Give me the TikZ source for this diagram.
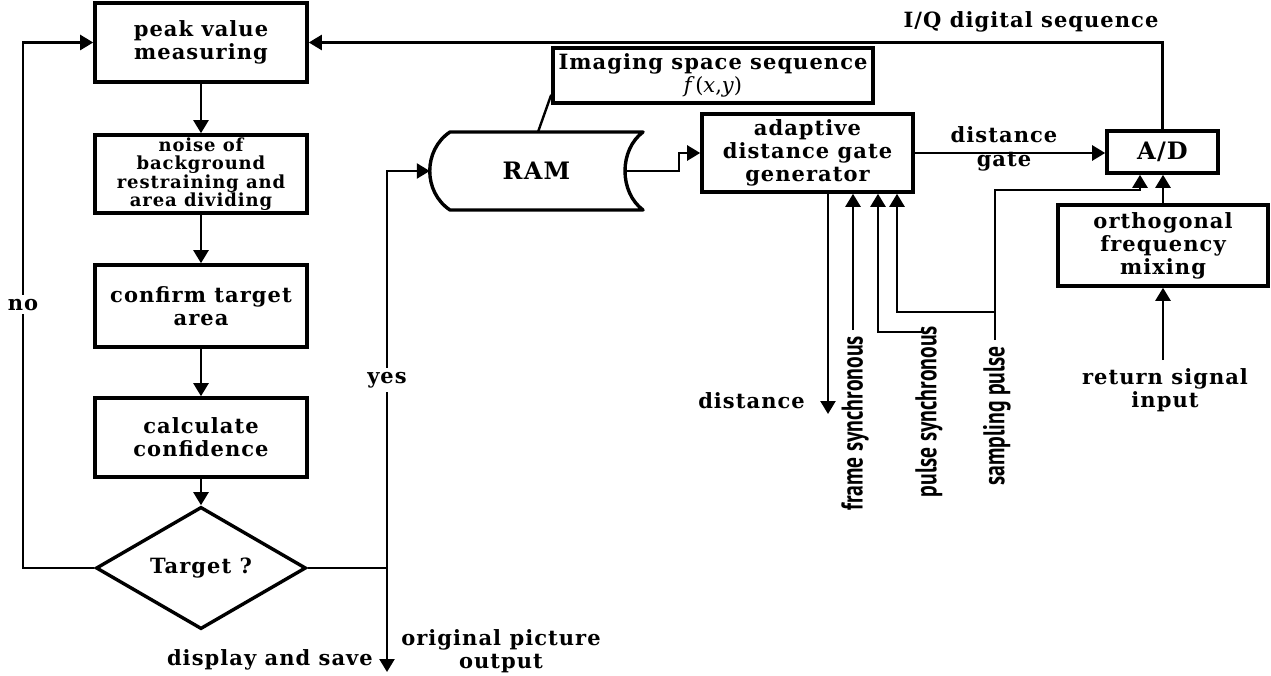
\documentclass[tikz,border=0pt]{standalone}
\usepackage{fontspec}
\setmainfont{DejaVu Serif}[LetterSpace=5]
\newfontfamily\condfont[FakeStretch=0.72]{PT Sans}
\usetikzlibrary{arrows.meta,shapes.geometric,calc}
\begin{document}
\begin{tikzpicture}[x=1pt,y=-1pt,
  font=\bfseries\fontsize{21}{23}\selectfont,
  box/.style={draw,line width=3.6pt,rectangle,align=center,inner sep=0pt},
  conn/.style={line width=2.4pt},
  arr/.style={conn,-{Triangle[length=13pt,width=15pt]}},
  lbl/.style={align=center,inner sep=0pt},
  gap/.style={fill=white,inner sep=4pt},
  big/.style={font=\bfseries\fontsize{24}{24}\selectfont},
  rot/.style={rotate=90,anchor=east,inner sep=0pt,font=\condfont\bfseries\fontsize{30}{30}\selectfont}]
\useasboundingbox (0,0) rectangle (1271,676);
% left flowchart
\node[box,minimum width=212pt,minimum height=79pt] (peak) at (201,42.5) {peak value\\measuring};
\node[box,minimum width=212pt,minimum height=78pt,font=\bfseries\fontsize{18}{18.5}\selectfont] (noise) at (201,174) {noise of\\background\\restraining and\\area dividing};
\node[box,minimum width=212pt,minimum height=82pt] (confirm) at (201,306) {confirm target\\area};
\node[box,minimum width=212pt,minimum height=79pt] (calc) at (201,437.5) {calculate\\confidence};
\node[draw,diamond,line width=3.4pt,minimum width=210pt,minimum height=81pt,inner sep=0pt] (target) at (201,568) {Target ?};
% RAM
\node[big,minimum width=213pt,minimum height=78pt,inner sep=0pt] (ram) at (536.5,171) {RAM};
\draw[line width=3.4pt,line join=round] (450,132) -- (643,132)
  .. controls (619,150) and (619,192) .. (643,210) -- (450,210)
  .. controls (423,192) and (423,150) .. (450,132) -- cycle;
\coordinate (ramR) at (625,171);
\coordinate (ramT) at (538,132);
% right blocks
\node[box,minimum width=320pt,minimum height=55pt] (img) at (713,75.5) {Imaging space sequence\\{\mdseries\itshape f\upshape\,(\itshape x\upshape,\itshape y\upshape)}};
\node[box,minimum width=211pt,minimum height=78pt] (adapt) at (807.5,153) {adaptive\\distance gate\\generator};
\node[box,big,minimum width=111pt,minimum height=42pt] (ad) at (1162.5,152) {A/D};
\node[box,minimum width=210pt,minimum height=81pt] (ortho) at (1163,245.5) {orthogonal\\frequency\\mixing};
% flow arrows
\draw[arr] (peak) -- (noise);
\draw[arr] (noise) -- (confirm);
\draw[arr] (confirm) -- (calc);
\draw[arr] (calc) -- (target);
\coordinate (nox) at (23,0);
\draw[arr] (target.west) -| (nox |- peak.west) -- (peak.west);
\coordinate (yj) at (387,568);
\coordinate (out) at (387,672);
\draw[conn] (target.east) -- (yj);
\draw[arr] (yj) |- (ram.west);
\draw[arr] (yj) -- (out);
\draw[conn] (ramT) -- ($(img.south west)+(0,-10)$);
\coordinate (rj) at (679,171);
\draw[arr] (ramR) -- (rj) |- (adapt.west);
\draw[arr] (adapt.east) -- (adapt.east -| ad.west);
\draw[arr] (ad.north) |- (peak.east);
\draw[arr] (ortho.north) -- (ortho.north |- ad.south);
\coordinate (ret) at (1163,360);
\draw[arr] (ret) -- (ret |- ortho.south);
% signals below adaptive gate generator
\coordinate (x0) at (828,0);
\coordinate (x1) at (853,0);
\coordinate (x2) at (878,0);
\coordinate (x3) at (897,0);
\coordinate (dst) at (828,414);
\draw[arr] (x0 |- adapt.south) -- (dst);
\coordinate (fs) at (853,330);
\draw[arr] (fs) -- (x1 |- adapt.south);
\coordinate (ps) at (922,332);
\draw[arr] (ps) -| (x2 |- adapt.south);
\coordinate (sp) at (995,340);
\coordinate (sj) at (995,312);
\coordinate (spc) at (1140,190);
\draw[arr] (sp) |- (spc) -- (spc |- ad.south);
\draw[arr] (sj) -| (x3 |- adapt.south);
% labels
\node[lbl,gap,anchor=base] (no) at (23,310) {no};
\node[lbl,gap,anchor=base] (yes) at (387,383) {yes};
\node[lbl,anchor=base east] (dsave) at (373,665) {display and save};
\node[lbl] (orig) at (501,651) {original picture\\output};
\node[lbl,anchor=base] (iq) at (1031,28) {I/Q digital sequence};
\node[lbl,anchor=base] (dg1) at (1004,143) {distance};
\node[lbl,anchor=base] (dg2) at (1004,167) {gate};
\node[lbl] (rsi) at (1165,390) {return signal\\input};
\node[lbl,anchor=base east] (dlab) at (805,408) {distance};
\node[rot] (fsl) at (855,336) {frame synchronous};
\node[rot] (psl) at (929,326) {pulse synchronous};
\node[rot] (spl) at (997,346) {sampling pulse};
\end{tikzpicture}
\end{document}
